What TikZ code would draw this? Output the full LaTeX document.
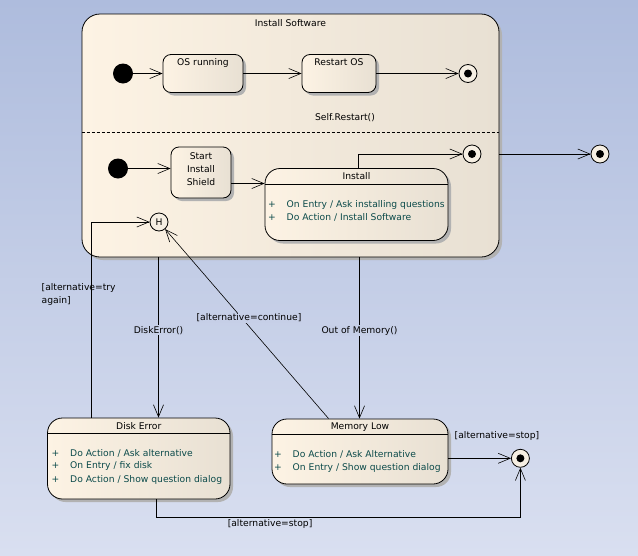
\documentclass[tikz,border=0pt]{standalone}
\usepackage{fontspec}
\setmainfont{DejaVu Sans}
\usetikzlibrary{calc,arrows.meta,shadows}

\definecolor{bgtop}{HTML}{AEBCDD}
\definecolor{bgbot}{HTML}{D9DFF0}
\definecolor{bgmid}{HTML}{C6CFE7}
\definecolor{creamL}{HTML}{FDF3E4}
\definecolor{creamR}{HTML}{E8E0D3}
\definecolor{finfill}{HTML}{F6EFE3}
\definecolor{acttxt}{HTML}{0B4A4A}

\tikzset{
  every node/.style={font=\fontsize{9.2}{13}\selectfont},
  state/.style={draw,line width=0.8pt,rounded corners=8pt,left color=creamL,right color=creamR,
    drop shadow={shadow xshift=3pt,shadow yshift=-3pt,fill=black!30,opacity=1}},
  initial/.style={circle,fill=black,minimum size=20,inner sep=0},
  final/.style={circle,draw,line width=0.8pt,fill=finfill,minimum size=18,inner sep=0,
    path picture={\fill[black] (path picture bounding box.center) circle (4pt);}},
  hist/.style={circle,draw,line width=0.8pt,fill=finfill,minimum size=18,inner sep=0},
  trans/.style={-{Straight Barb[length=12pt,width=10pt,line width=0.6pt]},line width=0.8pt},
  lbl/.style={fill=bgmid,inner sep=1pt},
  entry/.style={anchor=west,inner sep=0,text=acttxt},
}
\newcommand{\plusrow}[1]{\makebox[18.5pt][l]{+}#1}

\begin{document}
\begin{tikzpicture}[x=1pt,y=-1pt]
  \useasboundingbox (0,0) rectangle (638,555);
  \fill[top color=bgtop,bottom color=bgbot] (0,0) rectangle (638,555);

  % composite state
  \node[state,minimum width=417,minimum height=243,rounded corners=18pt] (sw) at (290.5,135.5) {};
  \node (swT) at (290.5,23) {Install Software};
  \draw[dashed,dash pattern=on 3pt off 2pt,line width=0.8pt] (sw.west |- 0,132) -- (sw.east |- 0,132);

  % upper region
  \node[initial] (i1) at (123,73.5) {};
  \node[state,minimum width=80,minimum height=38] (os) at (203,73.5) {};
  \node[below=1pt] (osT) at (os.north) {OS running};
  \node[state,minimum width=74,minimum height=38] (rs) at (339,73.5) {};
  \node[below=1pt] (rsT) at (rs.north) {Restart OS};
  \node[final] (f1) at (468,73.5) {};
  \node (selfT) at (345,118) {Self.Restart()};
  \draw[trans] (i1) -- (os);
  \draw[trans] (os) -- (rs);
  \draw[trans] (rs) -- (f1);

  % lower region
  \node[initial] (i2) at (118,168.5) {};
  \node[state,minimum width=60,minimum height=51] (sis) at (201,172.5) {};
  \node[align=center] (sisT) at (201,169) {Start\\Install\\Shield};
  \node[state,minimum width=183,minimum height=72,rounded corners=15pt] (inst) at (356.5,204.5) {};
  \node[below=1pt] (instT) at (inst.north) {Install};
  \draw[line width=0.8pt] (inst.west |- 0,184.5) -- (inst.east |- 0,184.5);
  \node[entry] (inst1) at (268,204.5) {\plusrow{On Entry / Ask installing questions}};
  \node[entry] (inst2) at (268,217.5) {\plusrow{Do Action / Install Software}};
  \node[final] (f2) at (472,154) {};
  \node[hist] (hist) at (159,222) {H};
  \draw[trans] (i2) -- (i2 -| sis.west);
  \draw[trans] (sis.east |- 0,183.5) -- (inst.west |- 0,183.5);
  \draw[trans] ($(inst.north)+(1.5,0)$) |- (f2);

  \node[final] (fout) at (600,154) {};
  \draw[trans] (sw.east |- fout) -- (fout);

  % Disk Error
  \node[state,minimum width=182.5,minimum height=81,rounded corners=15pt] (de) at (138.75,458.5) {};
  \node[below=1pt] (deT) at (de.north) {Disk Error};
  \draw[line width=0.8pt] (de.west |- 0,433.5) -- (de.east |- 0,433.5);
  \node[entry] (de1) at (51.5,453) {\plusrow{Do Action / Ask alternative}};
  \node[entry] (de2) at (51.5,466.3) {\plusrow{On Entry / fix disk}};
  \node[entry] (de3) at (51.5,479.6) {\plusrow{Do Action / Show question dialog}};

  % Memory Low
  \node[state,minimum width=176,minimum height=65,rounded corners=15pt] (ml) at (360,451.5) {};
  \node[below=1pt] (mlT) at (ml.north) {Memory Low};
  \draw[line width=0.8pt] (ml.west |- 0,434.3) -- (ml.east |- 0,434.3);
  \node[entry] (ml1) at (274,454.3) {\plusrow{Do Action / Ask Alternative}};
  \node[entry] (ml2) at (274,467.7) {\plusrow{On Entry / Show question dialog}};

  \node[final] (f3) at (520.4,458.3) {};

  % transitions between states
  \draw[trans] (sw.south -| 158.5,0) -- node[lbl,pos=0.455] (deL) {DiskError()} (de.north -| 158.5,0);
  \draw[trans] (sw.south -| 359.5,0) -- node[lbl,pos=0.455] (mlL) {Out of Memory()} (ml.north -| 359.5,0);
  \draw[trans] (de.north -| 91.5,0) |- (hist);
  \node[anchor=west,align=left,inner sep=0] (tryL) at (41.5,294.5) {[alternative=try\\again]};
  \draw[trans,line width=0.6pt] ($(ml.north west)+(57,0)$) -- (hist);
  \node[lbl] (contL) at (249,317.7) {[alternative=continue]};
  \draw[trans] (ml.east |- f3) -- (f3);
  \node (stopL1) at (497,435.7) {[alternative=stop]};
  \coordinate (deturn) at (156.5,517.5);
  \draw[trans] (de.south -| deturn) -- (deturn) -| node[below,pos=0.156,inner sep=2pt] (stopL2) {[alternative=stop]} (f3);
\end{tikzpicture}
\end{document}
